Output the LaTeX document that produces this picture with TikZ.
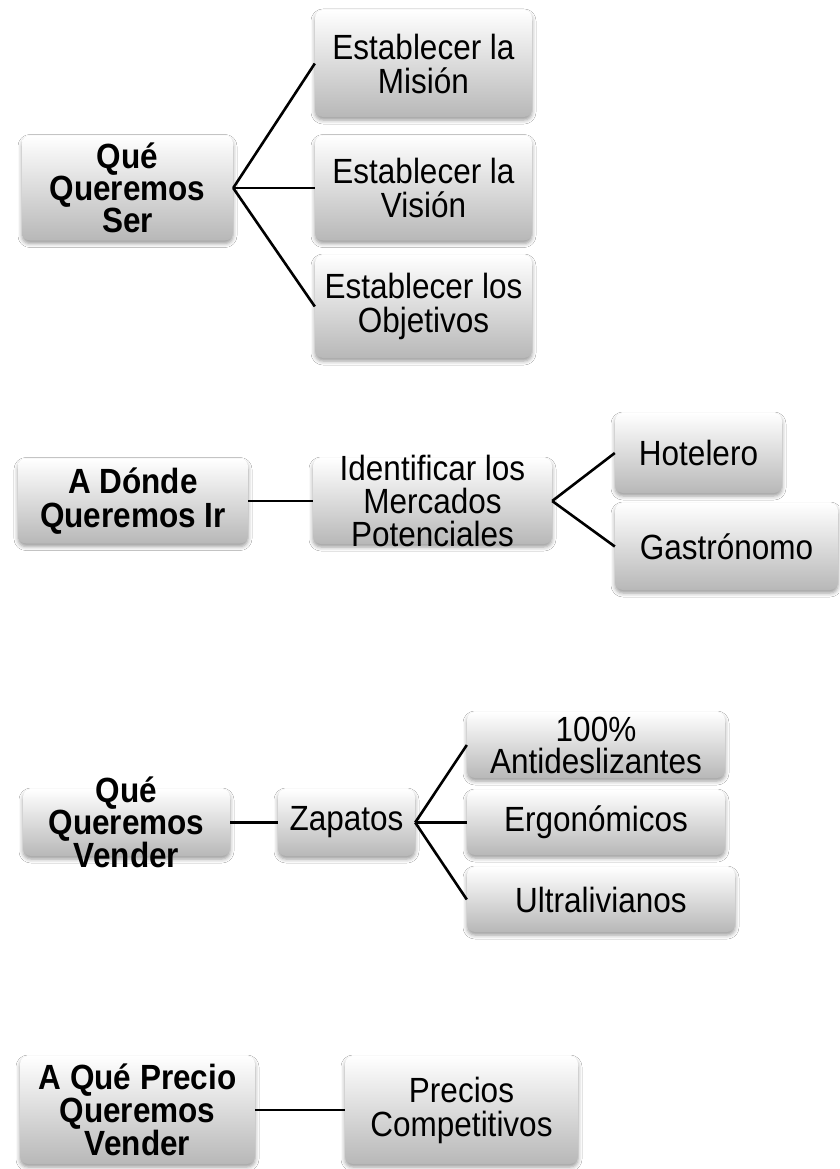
\documentclass[tikz,border=0pt]{standalone}
\usepackage{fontspec}
\setmainfont{Liberation Sans}[FakeStretch=0.9]
\usetikzlibrary{shadows.blur}
\newcommand\bxt[4]{\parbox[c][#2pt][c]{#1pt}{\centering\fontsize{35pt}{#3pt}\selectfont #4\par}}
\begin{document}
\begin{tikzpicture}[x=1pt,y=-1pt,
  mbox/.style={rounded corners=8pt, inner sep=0pt, top color=white, middle color=black!7, bottom color=black!28,
    blur shadow={shadow xshift=0pt, shadow yshift=-3pt, shadow blur radius=4pt, shadow opacity=40}},
  conn/.style={line width=2.6pt, black}]
\useasboundingbox[fill=white] (0,0) rectangle (839,1169);
% group 1
\node[mbox] (q1) at (127.5,188) {\bxt{211}{105}{32}{\bfseries Qué\\Queremos\\Ser}};
\node[mbox] (mis) at (423.5,63.5) {\bxt{217}{107}{34}{Establecer la\\Misión}};
\node[mbox] (vis) at (423.5,188) {\bxt{217}{105}{34}{Establecer la\\Visión}};
\node[mbox] (obj) at (423.5,306.5) {\bxt{217}{103}{34}{Establecer los\\Objetivos}};
\draw[conn] (q1.east) -- (mis.west);
\draw[conn] (q1.east) -- (vis.west);
\draw[conn] (q1.east) -- (obj.west);
% group 2
\node[mbox] (q2) at (133,501) {\bxt{230}{85}{34}{\bfseries A Dónde\\Queremos Ir}};
\node[mbox] (ide) at (432.5,501) {\bxt{239}{86}{33}{Identificar los\\Mercados\\Potenciales}};
\node[mbox] (hot) at (698.5,453) {\bxt{167}{80}{32}{Hotelero}};
\node[mbox] (gas) at (726.5,546.5) {\bxt{223}{87}{32}{Gastrónomo}};
\draw[conn] (q2.east) -- (ide.west);
\draw[conn] (ide.east) -- (hot.west);
\draw[conn] (ide.east) -- (gas.west);
% group 3
\node[mbox] (q3) at (126.5,822.5) {\bxt{207}{67}{30}{\bfseries Qué\\Queremos\\Vender}};
\node[mbox] (zap) at (346.5,822.5) {\bxt{137}{67}{32}{Zapatos}};
\node[mbox] (ant) at (596,745) {\bxt{258}{66}{32}{100\%\\Antideslizantes}};
\node[mbox] (erg) at (596,822.5) {\bxt{258}{65}{32}{Ergonómicos}};
\node[mbox] (ult) at (601,899.5) {\bxt{268}{65}{32}{Ultralivianos}};
\draw[conn] (q3.east) -- (zap.west);
\draw[conn] (zap.east) -- (ant.west);
\draw[conn] (zap.east) -- (erg.west);
\draw[conn] (zap.east) -- (ult.west);
% group 4
\node[mbox] (q4) at (137.5,1110) {\bxt{235}{108}{33}{\bfseries A Qué Precio\\Queremos\\Vender}};
\node[mbox] (pre) at (461.5,1110) {\bxt{233}{108}{34}{Precios\\Competitivos}};
\draw[conn] (q4.east) -- (pre.west);
\end{tikzpicture}
\end{document}
